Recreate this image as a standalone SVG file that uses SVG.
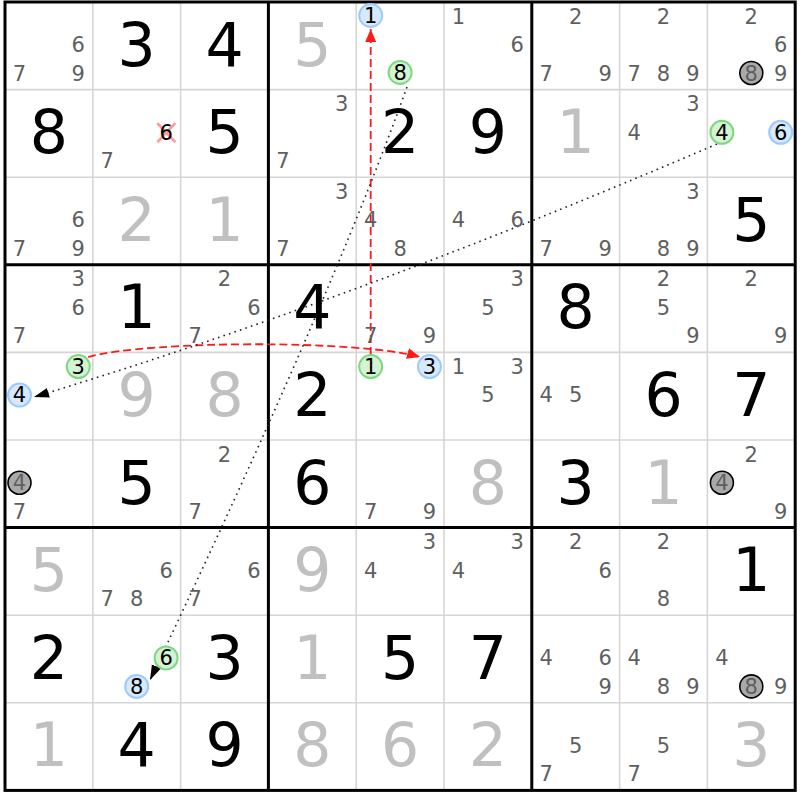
<svg xmlns="http://www.w3.org/2000/svg" width="800" height="800" viewBox="0 0 800 800">
<style>
text{font-family:"DejaVu Sans","Liberation Sans",sans-serif;text-anchor:middle}
.g{font-size:60px;fill:#000}
.s{font-size:60px;fill:#c0c0c0}
.c{font-size:21px;fill:#5f5f5f}
.k{font-size:21px;fill:#000}
.cg{fill:#d4f2d4;stroke:#7fd87f;stroke-width:2}
.cb{fill:#d6e9ff;stroke:#9ccaff;stroke-width:2}
.cx{fill:#a9a9a9;stroke:#000;stroke-width:1.6}
.thin{stroke:#d6d6d6;stroke-width:1.6;fill:none}
.thick{stroke:#000;stroke-width:3;fill:none}
.red{stroke:#ff1a1a;stroke-width:1.8;fill:none;stroke-dasharray:8,4}
.dot{stroke:#222;stroke-width:1.6;fill:none;stroke-dasharray:1.6,4.2}
</style>
<defs>
<marker id="ar" markerUnits="userSpaceOnUse" markerWidth="14" markerHeight="12" refX="13" refY="5.5" orient="auto"><path d="M0,0 L13,5.5 L0,11 z" fill="#ff1a1a"/></marker>
<marker id="ab" markerUnits="userSpaceOnUse" markerWidth="16" markerHeight="11" refX="15" refY="5" orient="auto"><path d="M0,0 L15,5 L0,10 z" fill="#000"/></marker>
</defs>
<rect width="800" height="800" fill="#fff"/>
<g id="grid">
<path class="thin" d="M92.8,2V790.4M180.6,2V790.4M356.2,2V790.4M444,2V790.4M619.6,2V790.4M707.4,2V790.4M5,89.6H795.2M5,177.2H795.2M5,352.4H795.2M5,440H795.2M5,615.2H795.2M5,702.8H795.2"/>
<path class="thick" d="M268.4,2V790.4M531.8,2V790.4M5,264.8H795.2M5,527.6H795.2"/>
<rect class="thick" x="5" y="2" width="790.2" height="788.4"/>
</g>
<g id="connectors">
<path class="red" d="M370.7,355 L370.7,29" marker-end="url(#ar)"/>
<path class="red" d="M88,357 C150,340 360,340 420,357" marker-end="url(#ar)"/>
<path class="dot" d="M717,144 Q349,302 34,397" marker-end="url(#ab)"/>
<path class="dot" d="M407,87 Q330,302 150,680" marker-end="url(#ab)"/>
</g>
<!-- Row 0 -->
<g id="r0c0" transform="translate(5,2)"><text class="c" x="73.3" y="50">6</text><text class="c" x="14.5" y="78.5">7</text><text class="c" x="73.3" y="78.5">9</text></g>
<g id="r0c1" transform="translate(92.8,2)"><text class="g" x="43.9" y="63.5">3</text></g>
<g id="r0c2" transform="translate(180.6,2)"><text class="g" x="43.9" y="63.5">4</text></g>
<g id="r0c3" transform="translate(268.4,2)"><text class="s" x="43.9" y="63.5">5</text></g>
<g id="r0c4" transform="translate(356.2,2)"><circle class="cb" cx="14.5" cy="13.5" r="11.5"/><text class="k" x="14.5" y="21">1</text><circle class="cg" cx="43.9" cy="70.5" r="11.5"/><text class="k" x="43.9" y="78">8</text></g>
<g id="r0c5" transform="translate(444,2)"><text class="c" x="14.5" y="21.5">1</text><text class="c" x="73.3" y="50">6</text></g>
<g id="r0c6" transform="translate(531.8,2)"><text class="c" x="43.9" y="21.5">2</text><text class="c" x="14.5" y="78.5">7</text><text class="c" x="73.3" y="78.5">9</text></g>
<g id="r0c7" transform="translate(619.6,2)"><text class="c" x="43.9" y="21.5">2</text><text class="c" x="14.5" y="78.5">7</text><text class="c" x="43.9" y="78.5">8</text><text class="c" x="73.3" y="78.5">9</text></g>
<g id="r0c8" transform="translate(707.4,2)"><text class="c" x="43.9" y="21.5">2</text><text class="c" x="73.3" y="50">6</text><circle class="cx" cx="43.9" cy="71" r="11.5"/><text class="c" x="43.9" y="78.5">8</text><text class="c" x="73.3" y="78.5">9</text></g>
<!-- Row 1 -->
<g id="r1c0" transform="translate(5,89.6)"><text class="g" x="43.9" y="63.5">8</text></g>
<g id="r1c1" transform="translate(92.8,89.6)"><path d="M64.5,33.5 L82.5,52.5 M82.5,33.5 L64.5,52.5" stroke="#ff9a9a" stroke-width="2.8" fill="none"/><text class="k" x="73.3" y="50">6</text><text class="c" x="14.5" y="78.5">7</text></g>
<g id="r1c2" transform="translate(180.6,89.6)"><text class="g" x="43.9" y="63.5">5</text></g>
<g id="r1c3" transform="translate(268.4,89.6)"><text class="c" x="73.3" y="21.5">3</text><text class="c" x="14.5" y="78.5">7</text></g>
<g id="r1c4" transform="translate(356.2,89.6)"><text class="g" x="43.9" y="63.5">2</text></g>
<g id="r1c5" transform="translate(444,89.6)"><text class="g" x="43.9" y="63.5">9</text></g>
<g id="r1c6" transform="translate(531.8,89.6)"><text class="s" x="43.9" y="63.5">1</text></g>
<g id="r1c7" transform="translate(619.6,89.6)"><text class="c" x="73.3" y="21.5">3</text><text class="c" x="14.5" y="50">4</text></g>
<g id="r1c8" transform="translate(707.4,89.6)"><circle class="cg" cx="14.5" cy="42.7" r="11.5"/><text class="k" x="14.5" y="50">4</text><circle class="cb" cx="73.3" cy="42.7" r="11.5"/><text class="k" x="73.3" y="50">6</text></g>
<!-- Row 2 -->
<g id="r2c0" transform="translate(5,177.2)"><text class="c" x="73.3" y="50">6</text><text class="c" x="14.5" y="78.5">7</text><text class="c" x="73.3" y="78.5">9</text></g>
<g id="r2c1" transform="translate(92.8,177.2)"><text class="s" x="43.9" y="63.5">2</text></g>
<g id="r2c2" transform="translate(180.6,177.2)"><text class="s" x="43.9" y="63.5">1</text></g>
<g id="r2c3" transform="translate(268.4,177.2)"><text class="c" x="73.3" y="21.5">3</text><text class="c" x="14.5" y="78.5">7</text></g>
<g id="r2c4" transform="translate(356.2,177.2)"><text class="c" x="14.5" y="50">4</text><text class="c" x="43.9" y="78.5">8</text></g>
<g id="r2c5" transform="translate(444,177.2)"><text class="c" x="14.5" y="50">4</text><text class="c" x="73.3" y="50">6</text></g>
<g id="r2c6" transform="translate(531.8,177.2)"><text class="c" x="14.5" y="78.5">7</text><text class="c" x="73.3" y="78.5">9</text></g>
<g id="r2c7" transform="translate(619.6,177.2)"><text class="c" x="73.3" y="21.5">3</text><text class="c" x="43.9" y="78.5">8</text><text class="c" x="73.3" y="78.5">9</text></g>
<g id="r2c8" transform="translate(707.4,177.2)"><text class="g" x="43.9" y="63.5">5</text></g>
<!-- Row 3 -->
<g id="r3c0" transform="translate(5,264.8)"><text class="c" x="73.3" y="21.5">3</text><text class="c" x="73.3" y="50">6</text><text class="c" x="14.5" y="78.5">7</text></g>
<g id="r3c1" transform="translate(92.8,264.8)"><text class="g" x="43.9" y="63.5">1</text></g>
<g id="r3c2" transform="translate(180.6,264.8)"><text class="c" x="43.9" y="21.5">2</text><text class="c" x="73.3" y="50">6</text><text class="c" x="14.5" y="78.5">7</text></g>
<g id="r3c3" transform="translate(268.4,264.8)"><text class="g" x="43.9" y="63.5">4</text></g>
<g id="r3c4" transform="translate(356.2,264.8)"><text class="c" x="14.5" y="78.5">7</text><text class="c" x="73.3" y="78.5">9</text></g>
<g id="r3c5" transform="translate(444,264.8)"><text class="c" x="73.3" y="21.5">3</text><text class="c" x="43.9" y="50">5</text></g>
<g id="r3c6" transform="translate(531.8,264.8)"><text class="g" x="43.9" y="63.5">8</text></g>
<g id="r3c7" transform="translate(619.6,264.8)"><text class="c" x="43.9" y="21.5">2</text><text class="c" x="43.9" y="50">5</text><text class="c" x="73.3" y="78.5">9</text></g>
<g id="r3c8" transform="translate(707.4,264.8)"><text class="c" x="43.9" y="21.5">2</text><text class="c" x="73.3" y="78.5">9</text></g>
<!-- Row 4 -->
<g id="r4c0" transform="translate(5,352.4)"><circle class="cg" cx="73.3" cy="14.2" r="11.5"/><text class="k" x="73.3" y="21.5">3</text><circle class="cb" cx="14.5" cy="42.7" r="11.5"/><text class="k" x="14.5" y="50">4</text></g>
<g id="r4c1" transform="translate(92.8,352.4)"><text class="s" x="43.9" y="63.5">9</text></g>
<g id="r4c2" transform="translate(180.6,352.4)"><text class="s" x="43.9" y="63.5">8</text></g>
<g id="r4c3" transform="translate(268.4,352.4)"><text class="g" x="43.9" y="63.5">2</text></g>
<g id="r4c4" transform="translate(356.2,352.4)"><circle class="cg" cx="14.5" cy="14.2" r="11.5"/><text class="k" x="14.5" y="21.5">1</text><circle class="cb" cx="73.3" cy="14.2" r="11.5"/><text class="k" x="73.3" y="21.5">3</text></g>
<g id="r4c5" transform="translate(444,352.4)"><text class="c" x="14.5" y="21.5">1</text><text class="c" x="73.3" y="21.5">3</text><text class="c" x="43.9" y="50">5</text></g>
<g id="r4c6" transform="translate(531.8,352.4)"><text class="c" x="14.5" y="50">4</text><text class="c" x="43.9" y="50">5</text></g>
<g id="r4c7" transform="translate(619.6,352.4)"><text class="g" x="43.9" y="63.5">6</text></g>
<g id="r4c8" transform="translate(707.4,352.4)"><text class="g" x="43.9" y="63.5">7</text></g>
<!-- Row 5 -->
<g id="r5c0" transform="translate(5,440)"><circle class="cx" cx="14.5" cy="42.7" r="11.5"/><text class="c" x="14.5" y="50">4</text><text class="c" x="14.5" y="78.5">7</text></g>
<g id="r5c1" transform="translate(92.8,440)"><text class="g" x="43.9" y="63.5">5</text></g>
<g id="r5c2" transform="translate(180.6,440)"><text class="c" x="43.9" y="21.5">2</text><text class="c" x="14.5" y="78.5">7</text></g>
<g id="r5c3" transform="translate(268.4,440)"><text class="g" x="43.9" y="63.5">6</text></g>
<g id="r5c4" transform="translate(356.2,440)"><text class="c" x="14.5" y="78.5">7</text><text class="c" x="73.3" y="78.5">9</text></g>
<g id="r5c5" transform="translate(444,440)"><text class="s" x="43.9" y="63.5">8</text></g>
<g id="r5c6" transform="translate(531.8,440)"><text class="g" x="43.9" y="63.5">3</text></g>
<g id="r5c7" transform="translate(619.6,440)"><text class="s" x="43.9" y="63.5">1</text></g>
<g id="r5c8" transform="translate(707.4,440)"><text class="c" x="43.9" y="21.5">2</text><circle class="cx" cx="14.5" cy="42.7" r="11.5"/><text class="c" x="14.5" y="50">4</text><text class="c" x="73.3" y="78.5">9</text></g>
<!-- Row 6 -->
<g id="r6c0" transform="translate(5,527.6)"><text class="s" x="43.9" y="63.5">5</text></g>
<g id="r6c1" transform="translate(92.8,527.6)"><text class="c" x="73.3" y="50">6</text><text class="c" x="14.5" y="78.5">7</text><text class="c" x="43.9" y="78.5">8</text></g>
<g id="r6c2" transform="translate(180.6,527.6)"><text class="c" x="73.3" y="50">6</text><text class="c" x="14.5" y="78.5">7</text></g>
<g id="r6c3" transform="translate(268.4,527.6)"><text class="s" x="43.9" y="63.5">9</text></g>
<g id="r6c4" transform="translate(356.2,527.6)"><text class="c" x="73.3" y="21.5">3</text><text class="c" x="14.5" y="50">4</text></g>
<g id="r6c5" transform="translate(444,527.6)"><text class="c" x="73.3" y="21.5">3</text><text class="c" x="14.5" y="50">4</text></g>
<g id="r6c6" transform="translate(531.8,527.6)"><text class="c" x="43.9" y="21.5">2</text><text class="c" x="73.3" y="50">6</text></g>
<g id="r6c7" transform="translate(619.6,527.6)"><text class="c" x="43.9" y="21.5">2</text><text class="c" x="43.9" y="78.5">8</text></g>
<g id="r6c8" transform="translate(707.4,527.6)"><text class="g" x="43.9" y="63.5">1</text></g>
<!-- Row 7 -->
<g id="r7c0" transform="translate(5,615.2)"><text class="g" x="43.9" y="63.5">2</text></g>
<g id="r7c1" transform="translate(92.8,615.2)"><circle class="cg" cx="73.3" cy="42.7" r="11.5"/><text class="k" x="73.3" y="50">6</text><circle class="cb" cx="43.9" cy="71.2" r="11.5"/><text class="k" x="43.9" y="78.5">8</text></g>
<g id="r7c2" transform="translate(180.6,615.2)"><text class="g" x="43.9" y="63.5">3</text></g>
<g id="r7c3" transform="translate(268.4,615.2)"><text class="s" x="43.9" y="63.5">1</text></g>
<g id="r7c4" transform="translate(356.2,615.2)"><text class="g" x="43.9" y="63.5">5</text></g>
<g id="r7c5" transform="translate(444,615.2)"><text class="g" x="43.9" y="63.5">7</text></g>
<g id="r7c6" transform="translate(531.8,615.2)"><text class="c" x="14.5" y="50">4</text><text class="c" x="73.3" y="50">6</text><text class="c" x="73.3" y="78.5">9</text></g>
<g id="r7c7" transform="translate(619.6,615.2)"><text class="c" x="14.5" y="50">4</text><text class="c" x="43.9" y="78.5">8</text><text class="c" x="73.3" y="78.5">9</text></g>
<g id="r7c8" transform="translate(707.4,615.2)"><text class="c" x="14.5" y="50">4</text><circle class="cx" cx="43.9" cy="71.2" r="11.5"/><text class="c" x="43.9" y="78.5">8</text><text class="c" x="73.3" y="78.5">9</text></g>
<!-- Row 8 -->
<g id="r8c0" transform="translate(5,702.8)"><text class="s" x="43.9" y="63.5">1</text></g>
<g id="r8c1" transform="translate(92.8,702.8)"><text class="g" x="43.9" y="63.5">4</text></g>
<g id="r8c2" transform="translate(180.6,702.8)"><text class="g" x="43.9" y="63.5">9</text></g>
<g id="r8c3" transform="translate(268.4,702.8)"><text class="s" x="43.9" y="63.5">8</text></g>
<g id="r8c4" transform="translate(356.2,702.8)"><text class="s" x="43.9" y="63.5">6</text></g>
<g id="r8c5" transform="translate(444,702.8)"><text class="s" x="43.9" y="63.5">2</text></g>
<g id="r8c6" transform="translate(531.8,702.8)"><text class="c" x="43.9" y="50">5</text><text class="c" x="14.5" y="78.5">7</text></g>
<g id="r8c7" transform="translate(619.6,702.8)"><text class="c" x="43.9" y="50">5</text><text class="c" x="14.5" y="78.5">7</text></g>
<g id="r8c8" transform="translate(707.4,702.8)"><text class="s" x="43.9" y="63.5">3</text></g>
</svg>
